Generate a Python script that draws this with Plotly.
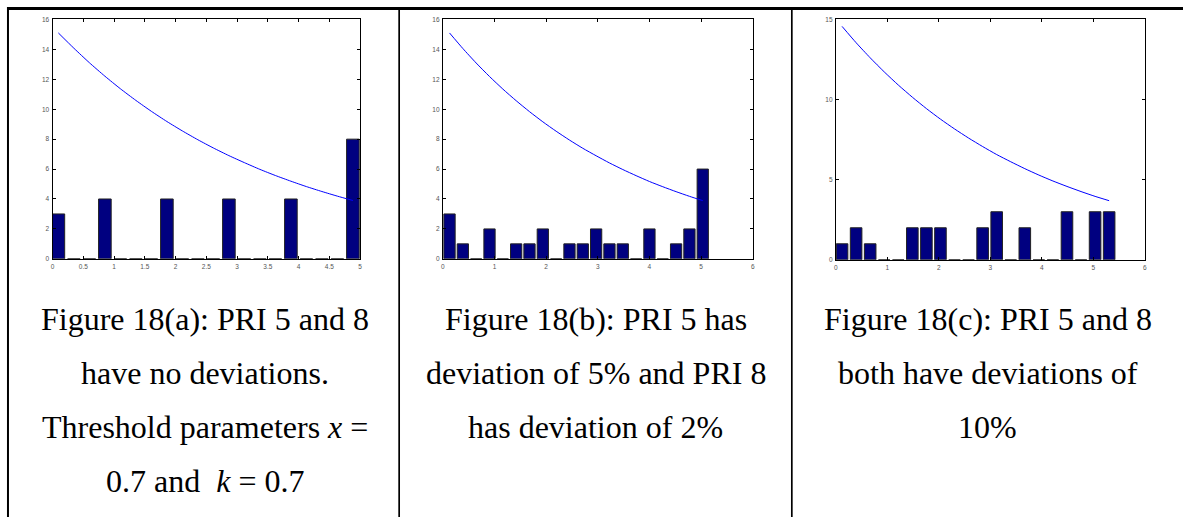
import plotly.graph_objects as go

W, H = 1185, 520

# ---------------- data ----------------
# Panel (a)
a_centers = [0.095, 0.347, 0.599, 0.851, 1.103, 1.355, 1.607, 1.859, 2.111, 2.363,
             2.615, 2.867, 3.119, 3.371, 3.623, 3.875, 4.127, 4.379, 4.631, 4.883]
a_counts = [3, 0, 0, 4, 0, 0, 0, 4, 0, 0, 0, 4, 0, 0, 0, 4, 0, 0, 0, 8]
a_threshold = [15.10, 14.08, 13.11, 12.21, 11.37, 10.59, 9.86, 9.18, 8.55, 7.96,
               7.41, 6.90, 6.43, 5.98, 5.57, 5.19, 4.83, 4.50, 4.19, 3.90]

# Panel (b)
b_centers = [0.130, 0.388, 0.646, 0.904, 1.162, 1.420, 1.678, 1.936, 2.194, 2.452,
             2.710, 2.968, 3.226, 3.484, 3.742, 4.000, 4.258, 4.516, 4.774, 5.032]
b_counts = [3, 1, 0, 2, 0, 1, 1, 2, 0, 1, 1, 2, 1, 1, 0, 2, 0, 1, 2, 6]
b_threshold = [15.10, 14.06, 13.09, 12.19, 11.35, 10.57, 9.84, 9.16, 8.53, 7.94,
               7.39, 6.89, 6.41, 5.97, 5.56, 5.17, 4.82, 4.49, 4.18, 3.89]

# Panel (c)
c_centers = [0.120, 0.393, 0.666, 0.939, 1.212, 1.485, 1.758, 2.031, 2.304, 2.577,
             2.850, 3.123, 3.396, 3.669, 3.942, 4.215, 4.488, 4.761, 5.034, 5.307]
c_counts = [1, 2, 1, 0, 0, 2, 2, 2, 0, 0, 2, 3, 0, 2, 0, 0, 3, 0, 3, 3]
c_threshold = [14.57, 13.55, 12.61, 11.73, 10.91, 10.15, 9.44, 8.78, 8.17, 7.60,
               7.07, 6.57, 6.12, 5.69, 5.29, 4.92, 4.58, 4.26, 3.96, 3.69]

# tick labels
a_xticks = [0, 0.5, 1, 1.5, 2, 2.5, 3, 3.5, 4, 4.5, 5]
bc_xticks = [0, 1, 2, 3, 4, 5, 6]
ab_yticks = [0, 2, 4, 6, 8, 10, 12, 14, 16]
c_yticks = [0, 5, 10, 15]

captions_a = ["Figure 18(a): PRI 5 and 8", "have no deviations.",
              "Threshold parameters <i>x</i> =", "0.7 and  <i>k</i> = 0.7"]
captions_b = ["Figure 18(b): PRI 5 has", "deviation of 5% and PRI 8",
              "has deviation of 2%"]
captions_c = ["Figure 18(c): PRI 5 and 8", "both have deviations of", "10%"]

# ---------------- layout helpers ----------------
def px_x(x):
    return x / W

def px_y(y):
    return 1 - y / H

BAR_COLOR = "#000080"
LINE_COLOR = "#0000FF"
TICK_FONT = dict(family="Liberation Sans", size=6.5, color="#555555")

panels = [
    dict(centers=a_centers, counts=a_counts, thr=a_threshold, bw=0.205,
         xr=[0, 5], xt=a_xticks, yr=[0, 16], yt=ab_yticks,
         left=50.7, right=359.3, top=15.7, bottom=258.3),
    dict(centers=b_centers, counts=b_counts, thr=b_threshold, bw=0.218,
         xr=[0, 6], xt=bc_xticks, yr=[0, 16], yt=ab_yticks,
         left=442.3, right=753.3, top=15.7, bottom=258.3),
    dict(centers=c_centers, counts=c_counts, thr=c_threshold, bw=0.225,
         xr=[0, 6], xt=bc_xticks, yr=[0, 15], yt=c_yticks,
         left=836.7, right=1146.7, top=15.7, bottom=259.3),
]

fig = go.Figure()
layout = {}
for i, p in enumerate(panels):
    n = "" if i == 0 else str(i + 1)
    xa, ya = "x" + n, "y" + n
    fig.add_trace(go.Bar(
        x=p["centers"], y=p["counts"], width=p["bw"],
        marker=dict(color=BAR_COLOR, line=dict(color="#222222", width=1)),
        xaxis=xa, yaxis=ya, showlegend=False, hoverinfo="skip"))
    fig.add_trace(go.Scatter(
        x=p["centers"], y=p["thr"], mode="lines",
        line=dict(color=LINE_COLOR, width=1, shape="spline", smoothing=0.6),
        xaxis=xa, yaxis=ya, showlegend=False, hoverinfo="skip"))
    common = dict(showline=True, linecolor="black", linewidth=1, mirror="ticks",
                  ticks="inside", ticklen=3, tickcolor="black", tickwidth=1,
                  showgrid=False, zeroline=False, tickfont=TICK_FONT, fixedrange=True)
    layout["xaxis" + n] = dict(common, domain=[px_x(p["left"]), px_x(p["right"])],
                               range=p["xr"], tickmode="array", tickvals=p["xt"],
                               ticktext=[f"{v:g}" for v in p["xt"]],
                               anchor=ya, ticklabelstandoff=1)
    layout["yaxis" + n] = dict(common, domain=[px_y(p["bottom"]), px_y(p["top"])],
                               range=p["yr"], tickmode="array", tickvals=p["yt"],
                               anchor=xa, ticklabelstandoff=1)

fig.update_layout(**layout)

# ---------------- table borders ----------------
shapes = []
def vline(x, y0, y1, w):
    shapes.append(dict(type="line", xref="paper", yref="paper",
                       x0=px_x(x), x1=px_x(x), y0=px_y(y0), y1=px_y(y1),
                       line=dict(color="black", width=w)))
def hline(y, x0, x1, w):
    shapes.append(dict(type="line", xref="paper", yref="paper",
                       x0=px_x(x0), x1=px_x(x1), y0=px_y(y), y1=px_y(y),
                       line=dict(color="black", width=w)))

hline(4.5, 5, 1185, 3)
vline(6, 3, 520, 2)
vline(398.5, 3, 520, 1.7)
vline(792.5, 3, 520, 1.7)

# ---------------- captions ----------------
annotations = []
CAP_FONT = dict(family="Liberation Serif", size=32, color="black")
line_y = [319, 374, 429, 484]
for cx, lines in [(204, captions_a), (596, captions_b), (989, captions_c)]:
    for j, t in enumerate(lines):
        annotations.append(dict(text=t, xref="paper", yref="paper",
                                x=px_x(cx), y=px_y(line_y[j]),
                                xanchor="center", yanchor="middle",
                                showarrow=False, font=CAP_FONT))

fig.update_layout(
    width=W, height=H, margin=dict(l=0, r=0, t=0, b=0),
    paper_bgcolor="white", plot_bgcolor="white",
    shapes=shapes, annotations=annotations, bargap=0,
    showlegend=False,
)

fig.write_html("out.html", config={"displayModeBar": False, "staticPlot": True},
               post_script="document.body.style.margin='0';document.body.style.overflow='hidden';")
